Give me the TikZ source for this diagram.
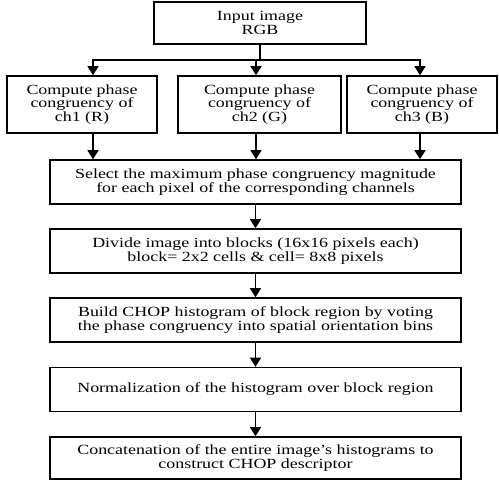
\documentclass[tikz,border=0pt]{standalone}
\usepackage{fontspec}
\setmainfont{Liberation Serif}[FakeStretch=1.28]
\usetikzlibrary{arrows.meta,calc}

\begin{document}
\begin{tikzpicture}[x=1pt,y=-1pt,
    box/.style={draw, line width=1.6pt, align=center, inner sep=0pt,
      font=\fontsize{14}{13.5}\selectfont},
    chbox/.style={box, minimum width=150, minimum height=57},
    stepbox/.style={box, minimum width=411, minimum height=44},
    arr/.style={line width=1.4pt, -{Triangle[length=9pt,width=11pt]}}]
\useasboundingbox (0,0) rectangle (499,482);

\node[box, minimum width=212, minimum height=42] (input) at (260,23) {Input image\\RGB};

\node[chbox] (ch1) at (82,104.5) {Compute phase\\congruency of\\ch1 (R)};
\node[chbox, minimum width=163] (ch2) at (259.5,104.5) {Compute phase\\congruency of\\ch2 (G)};
\node[chbox] (ch3) at (422,104.5) {Compute phase\\congruency of\\ch3 (B)};

\node[stepbox] (sel) at (255.5,182) {Select the maximum phase congruency magnitude\\for each pixel of the corresponding channels};
\node[stepbox] (div) at (255.5,251) {Divide image into blocks (16x16 pixels each)\\block= 2x2 cells \& cell= 8x8 pixels};
\node[stepbox] (build) at (255.5,320) {Build CHOP histogram of block region by voting\\the phase congruency into spatial orientation bins};
\node[stepbox] (norm) at (255.5,389.5) {Normalization of the histogram over block region};
\node[stepbox, minimum height=42] (conc) at (255.5,458) {Concatenation of the entire image's histograms to\\construct CHOP descriptor};

% x positions of the branch arrows
\coordinate (c1) at (93,0);
\coordinate (c2) at (256,0);
\coordinate (c3) at (420,0);

\draw[arr] (input.south) -- ++(0,15) -| (c1 |- ch1.north);
\draw[arr] (input.south) -- ++(0,15) -| (c2 |- ch2.north);
\draw[arr] (input.south) -- ++(0,15) -| (c3 |- ch3.north);

\draw[arr] (c1 |- ch1.south) -- (c1 |- sel.north);
\draw[arr] (c2 |- ch2.south) -- (c2 |- sel.north);
\draw[arr] (c3 |- ch3.south) -- (c3 |- sel.north);

\draw[arr] (sel) -- (div);
\draw[arr] (div) -- (build);
\draw[arr] (build) -- (norm);
\draw[arr] (norm) -- (conc);
\end{tikzpicture}
\end{document}
